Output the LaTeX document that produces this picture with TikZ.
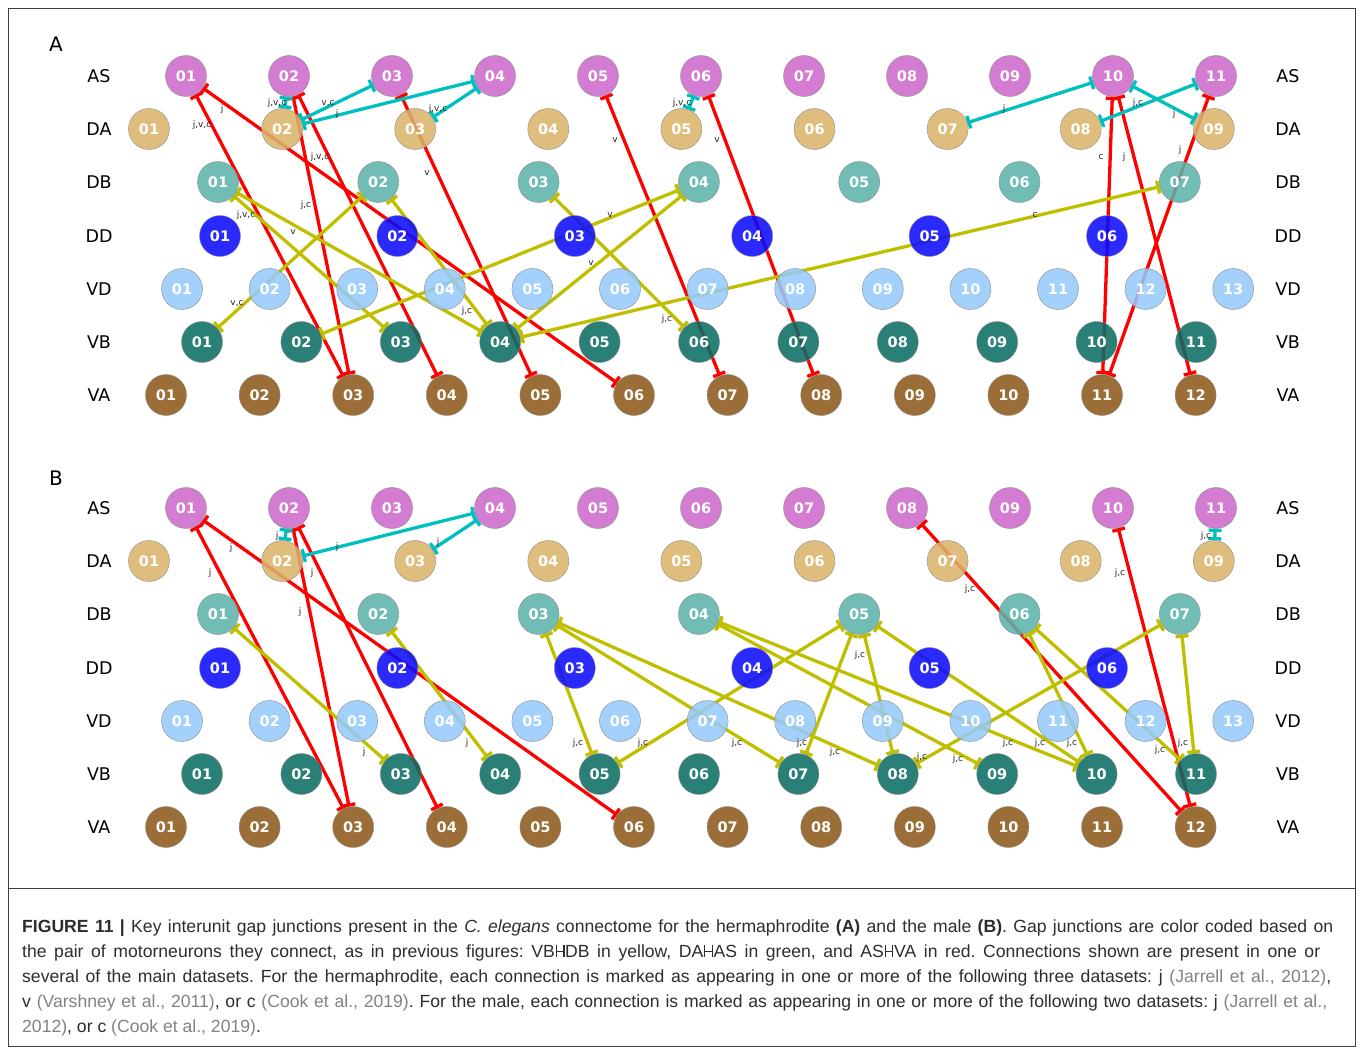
\documentclass[tikz,border=0pt]{standalone}
\usepackage{fontspec}
\setmainfont{Liberation Sans}
\newfontfamily\dejavu{DejaVu Sans}
\usetikzlibrary{arrows.meta}

\definecolor{cAS}{RGB}{204,104,202}
\definecolor{cDA}{RGB}{217,179,106}
\definecolor{cDB}{RGB}{92,178,169}
\definecolor{cDD}{RGB}{10,10,255}
\definecolor{cVD}{RGB}{150,202,250}
\definecolor{cVB}{RGB}{10,108,99}
\definecolor{cVA}{RGB}{140,88,25}
\definecolor{eR}{RGB}{255,0,0}
\definecolor{eY}{RGB}{191,191,0}
\definecolor{eC}{RGB}{0,191,191}
\definecolor{capText}{RGB}{45,45,45}
\definecolor{capRef}{RGB}{130,130,130}

\pgfdeclarelayer{edges}
\pgfsetlayers{edges,main}

% one row of numbered neurons: prefix, class, count, first x, spacing, y, colour
\newcommand\neuronrow[7]{%
  \foreach \i in {1,...,#3}{%
    \pgfmathsetmacro\xx{#4+(\i-1)*#5}%
    \node[nd,fill=#7] (#1-#2-\i) at (\xx,#6) {\ifnum\i<10 0\fi\i};%
  }%
  \node[rowlab] at (99,#6) {#2};%
  \node[rowlab] at (1288,#6) {#2};%
}
% gap-junction glyph used in the caption
\newcommand\gapj{\kern0.04em\rule{0.07em}{0.68em}\rule[0.3em]{0.36em}{0.07em}\rule{0.07em}{0.68em}\kern0.04em}
\newcommand\cref[1]{{\color{capRef}#1}}

\begin{document}
\frenchspacing
\begin{tikzpicture}[x=1pt,y=-1pt,
  nd/.style={circle,minimum size=41pt,inner sep=0pt,draw=black!45,line width=0.4pt,
    fill opacity=0.87,text opacity=1,text=white,font=\dejavu\bfseries\fontsize{14.5}{15}\selectfont},
  rowlab/.style={font=\dejavu\fontsize{17.5}{18}\selectfont,text=black},
  panel/.style={font=\dejavu\fontsize{20}{20}\selectfont,text=black},
  gj/.style={line width=3.3pt,{Bar[width=13pt]}-{Bar[width=13pt]}},
  lb/.style={font=\dejavu\fontsize{9}{9}\selectfont,text=black!85,inner sep=0pt},
  capline/.style={anchor=base west,inner sep=0pt,text=capText,font=\fontsize{17.6}{20}\selectfont}
]
\useasboundingbox (0,0) rectangle (1360,1047);

% frame and caption divider
\draw[black!75,line width=0.8pt] (8,8) rectangle (1355,1046);
\draw[black!75,line width=0.8pt] (8,888) -- (1355,888);

% ---------- panel A: hermaphrodite ----------
\node[panel] (pA) at (56,44) {A};
\neuronrow{a}{AS}{11}{186}{103}{76}{cAS}
\neuronrow{a}{DA}{9}{149}{133.1}{129}{cDA}
\neuronrow{a}{DB}{7}{218}{160.3}{182}{cDB}
\neuronrow{a}{DD}{6}{220}{177.4}{236}{cDD}
\neuronrow{a}{VD}{13}{182}{87.6}{289}{cVD}
\neuronrow{a}{VB}{11}{202}{99.4}{342}{cVB}
\neuronrow{a}{VA}{12}{166}{93.6}{395}{cVA}

% ---------- panel B: male ----------
\node[panel] (pB) at (56,478) {B};
\neuronrow{b}{AS}{11}{186}{103}{508}{cAS}
\neuronrow{b}{DA}{9}{149}{133.1}{561}{cDA}
\neuronrow{b}{DB}{7}{218}{160.3}{614}{cDB}
\neuronrow{b}{DD}{6}{220}{177.4}{668}{cDD}
\neuronrow{b}{VD}{13}{182}{87.6}{721}{cVD}
\neuronrow{b}{VB}{11}{202}{99.4}{774}{cVB}
\neuronrow{b}{VA}{12}{166}{93.6}{827}{cVA}

\begin{pgfonlayer}{edges}
% A: AS-VA (red)
\foreach \s/\t in {1/3,1/6,2/3,2/4,3/5,5/7,6/8,10/11,10/12,11/11}
  \draw[gj,eR] (a-AS-\s) -- (a-VA-\t);
% A: DA-AS (cyan)
\foreach \s/\t in {2/2,3/2,4/2,4/3,6/5,10/7,11/8,10/9}
  \draw[gj,eC] (a-AS-\s) -- (a-DA-\t);
% A: VB-DB (yellow)
\foreach \s/\t in {1/3,1/4,2/1,2/4,3/6,4/2,4/4,7/4}
  \draw[gj,eY] (a-DB-\s) -- (a-VB-\t);

% B: AS-VA (red)
\foreach \s/\t in {1/3,1/6,2/3,2/4,8/12,10/12}
  \draw[gj,eR] (b-AS-\s) -- (b-VA-\t);
% B: DA-AS (cyan)
\foreach \s/\t in {2/2,4/2,4/3,11/9}
  \draw[gj,eC] (b-AS-\s) -- (b-DA-\t);
% B: VB-DB (yellow)
\foreach \s/\t in {1/3,2/4,3/5,3/7,3/8,4/9,4/10,5/5,5/7,5/8,5/10,6/10,6/11,7/8,7/11}
  \draw[gj,eY] (b-DB-\s) -- (b-VB-\t);
\end{pgfonlayer}

% dataset labels, panel A
\foreach \p/\txt in {{222,109}/j,{202,125}/{j,v,c},{306,205}/{j,c},{320,157}/{j,v,c},
  {427,173}/v,{615,140}/v,{717,140}/v,{1101,157}/c,{1124,157}/j,{1180,150}/j,
  {277,103}/{j,v,c},{328,103}/{v,c},{337,114}/j,{438,109}/{j,v,c},{682,103}/{j,v,c},
  {1004,109}/j,{1138,103}/{j,c},{1174,114}/j,
  {246,215}/{j,v,c},{293,232}/v,{237,303}/{v,c},{467,311}/{j,c},{610,215}/v,
  {591,263}/v,{667,319}/{j,c},{1035,215}/c}
  \node[lb] at (\p) {\txt};

% dataset labels, panel B
\foreach \p/\txt in {{231,548}/j,{210,573}/j,{312,573}/j,{300,612}/j,{970,589}/{j,c},{1120,573}/{j,c},
  {277,536}/j,{337,547}/j,{438,542}/j,{1206,536}/{j,c},
  {364,752}/j,{467,743}/j,{578,743}/{j,c},{643,743}/{j,c},{737,743}/{j,c},{802,743}/{j,c},
  {835,752}/{j,c},{860,655}/{j,c},{922,757}/{j,c},{958,759}/{j,c},{1008,743}/{j,c},
  {1040,743}/{j,c},{1072,743}/{j,c},{1160,750}/{j,c},{1183,743}/{j,c}}
  \node[lb] at (\p) {\txt};

% caption
\node[capline] (c1) at (22,932) {\makebox[1311pt][s]{\textbf{FIGURE 11 |} Key interunit gap junctions present in the \textit{C. elegans} connectome for the hermaphrodite \textbf{(A)} and the male \textbf{(B)}. Gap junctions are color coded based on}};
\node[capline] (c2) at (22,957) {\makebox[1298pt][s]{the pair of motorneurons they connect, as in previous figures: VB\gapj DB in yellow, DA\gapj AS in green, and AS\gapj VA in red. Connections shown are present in one or}};
\node[capline] (c3) at (22,982) {\makebox[1309pt][s]{several of the main datasets. For the hermaphrodite, each connection is marked as appearing in one or more of the following three datasets: j \cref{(Jarrell et al., 2012)},}};
\node[capline] (c4) at (22,1007) {\makebox[1305pt][s]{v \cref{(Varshney et al., 2011)}, or c \cref{(Cook et al., 2019)}. For the male, each connection is marked as appearing in one or more of the following two datasets: j \cref{(Jarrell et al.,}}};
\node[capline] (c5) at (22,1032) {\cref{2012)}, or c \cref{(Cook et al., 2019)}.};
\end{tikzpicture}
\end{document}
